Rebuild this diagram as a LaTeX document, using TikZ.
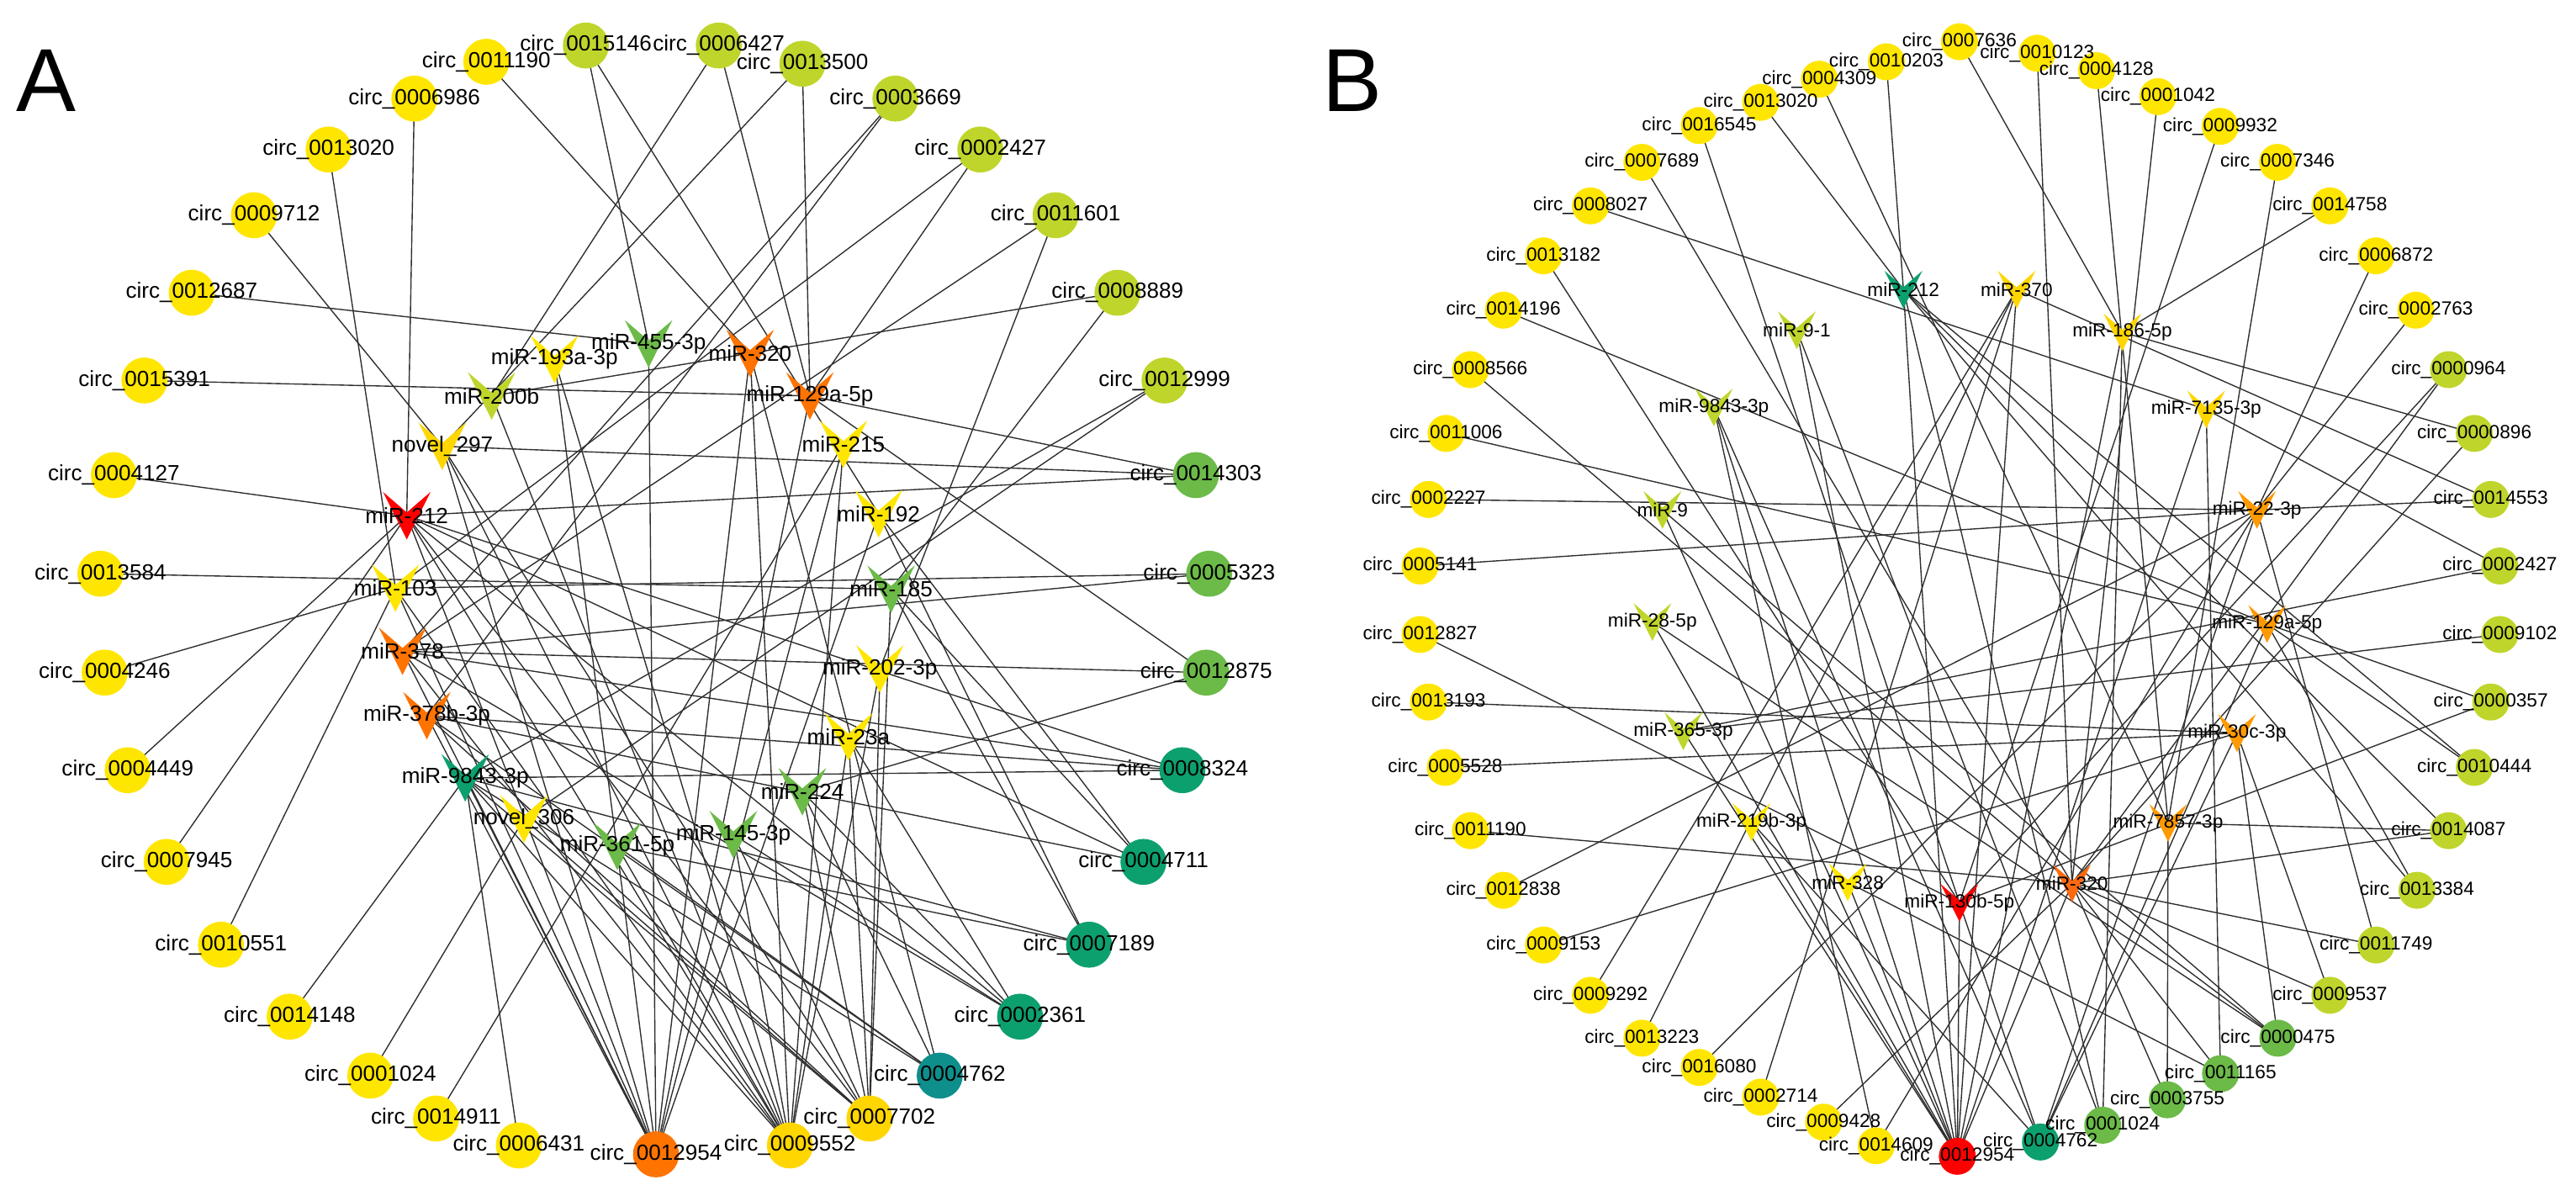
\documentclass[tikz,border=0pt]{standalone}
\usepackage{fontspec}
\setmainfont{Liberation Sans}
\pgfdeclarelayer{background}
\pgfdeclarelayer{foreground}
\pgfsetlayers{background,main,foreground}
\definecolor{cY}{HTML}{FFE600}
\definecolor{cGold}{HTML}{FFD600}
\definecolor{cYG}{HTML}{C0D52B}
\definecolor{cGR}{HTML}{6CBA48}
\definecolor{cTG}{HTML}{0DA06F}
\definecolor{cTeal}{HTML}{0E8F8C}
\definecolor{cOr}{HTML}{FF7300}
\definecolor{cOrB}{HTML}{FF9A00}
\definecolor{cOrR}{HTML}{FF6A10}
\definecolor{cRed}{HTML}{FF0000}
\tikzset{
  cA/.style={circle, draw=none, inner sep=0pt, minimum size=0.56cm},
  cB/.style={circle, draw=none, inner sep=0pt, minimum size=0.45cm},
  vA/.style={rectangle, draw=none, inner sep=0pt, minimum width=0.58cm, minimum height=0.58cm,
    path picture={\fill[#1] (path picture bounding box.north west) -- ([yshift=-0.25cm]path picture bounding box.north) -- (path picture bounding box.north east) -- (path picture bounding box.south) -- cycle;}},
  vB/.style={rectangle, draw=none, inner sep=0pt, minimum width=0.46cm, minimum height=0.46cm,
    path picture={\fill[#1] (path picture bounding box.north west) -- ([yshift=-0.2cm]path picture bounding box.north) -- (path picture bounding box.north east) -- (path picture bounding box.south) -- cycle;}},
  labA/.style={font=\fontsize{7.6}{9}\selectfont, inner sep=0pt, text=black},
  labB/.style={font=\fontsize{6.6}{8}\selectfont, inner sep=0pt, text=black},
  edge/.style={draw=black!82, line width=0.4pt},
  panel/.style={font=\fontsize{31}{31}\selectfont, inner sep=0pt, text=black}
}
\newcommand\circA[5]{\node[cA,fill=#4] (#1) at (#2,#3) {};
  \begin{pgfonlayer}{foreground}\node[labA] (#1-t) at (#1.center) {#5};\end{pgfonlayer}}
\newcommand\mirA[5]{\node[vA=#4] (#1) at (#2,#3) {};
  \begin{pgfonlayer}{foreground}\node[labA] (#1-t) at (#1.center) {#5};\end{pgfonlayer}}
\newcommand\circB[5]{\node[cB,fill=#4] (#1) at (#2,#3) {};
  \begin{pgfonlayer}{foreground}\node[labB] (#1-t) at (#1.center) {#5};\end{pgfonlayer}}
\newcommand\mirB[5]{\node[vB=#4] (#1) at (#2,#3) {};
  \begin{pgfonlayer}{foreground}\node[labB] (#1-t) at (#1.center) {#5};\end{pgfonlayer}}
\begin{document}
\begin{tikzpicture}[x=0.02cm,y=-0.02cm]
\useasboundingbox (0,0) rectangle (1568,731);
\begin{pgfonlayer}{background}
\fill[white] (0,0) rectangle (1568,731);
\end{pgfonlayer}
\node[panel] (pA) at (28,49) {A};
\node[panel] (pB) at (823,49) {B};
% ---------------- Panel A : circRNAs
\circA{a1}{356.6}{27.7}{cYG}{circ\_0015146}
\circA{a2}{437.5}{27.7}{cYG}{circ\_0006427}
\circA{a3}{488.4}{38.8}{cYG}{circ\_0013500}
\circA{a4}{545}{60}{cYG}{circ\_0003669}
\circA{a5}{596.7}{91}{cYG}{circ\_0002427}
\circA{a6}{642.5}{131}{cYG}{circ\_0011601}
\circA{a7}{680.2}{178.2}{cYG}{circ\_0008889}
\circA{a8}{708.8}{231.6}{cYG}{circ\_0012999}
\circA{a9}{727.9}{289.2}{cGR}{circ\_0014303}
\circA{a10}{736}{349.2}{cGR}{circ\_0005323}
\circA{a11}{734.2}{409.4}{cGR}{circ\_0012875}
\circA{a12}{719.7}{468.8}{cTG}{circ\_0008324}
\circA{a13}{696}{524.6}{cTG}{circ\_0004711}
\circA{a14}{662.9}{575}{cTG}{circ\_0007189}
\circA{a15}{620.9}{618.8}{cTG}{circ\_0002361}
\circA{a16}{572}{654.7}{cTeal}{circ\_0004762}
\circA{a17}{529.2}{680.8}{cGold}{circ\_0007702}
\circA{a18}{480.8}{697.2}{cGold}{circ\_0009552}
\circA{a19}{399.3}{702.6}{cOr}{circ\_0012954}
\circA{a20}{315.8}{697.2}{cY}{circ\_0006431}
\circA{a21}{265.4}{680.8}{cY}{circ\_0014911}
\circA{a22}{225.4}{654.7}{cY}{circ\_0001024}
\circA{a23}{176.3}{618.8}{cY}{circ\_0014148}
\circA{a24}{134.5}{575}{cY}{circ\_0010551}
\circA{a25}{101.4}{524.6}{cY}{circ\_0007945}
\circA{a26}{77.7}{468.8}{cY}{circ\_0004449}
\circA{a27}{63.7}{409.4}{cY}{circ\_0004246}
\circA{a28}{61.1}{349.2}{cY}{circ\_0013584}
\circA{a29}{69.3}{289.2}{cY}{circ\_0004127}
\circA{a30}{87.9}{231.6}{cY}{circ\_0015391}
\circA{a31}{116.7}{178.2}{cY}{circ\_0012687}
\circA{a32}{154.6}{131}{cY}{circ\_0009712}
\circA{a33}{200}{91}{cY}{circ\_0013020}
\circA{a34}{252.2}{60}{cY}{circ\_0006986}
\circA{a35}{296}{37.6}{cY}{circ\_0011190}
% ---------------- Panel A : miRNAs
\mirA{m1}{394.8}{209.3}{cGR}{miR-455-3p}
\mirA{m2}{456.6}{215.1}{cOr}{miR-320}
\mirA{m3}{337.5}{218.7}{cY}{miR-193a-3p}
\mirA{m4}{299.3}{241}{cYG}{miR-200b}
\mirA{m5}{493}{241}{cOr}{miR-129a-5p}
\mirA{m6}{269.2}{271.6}{cGold}{novel\_297}
\mirA{m7}{513.4}{270.4}{cY}{miR-215}
\mirA{m8}{247.6}{313.9}{cRed}{miR-212}
\mirA{m9}{534.8}{312.7}{cY}{miR-192}
\mirA{m10}{240.7}{358}{cY}{miR-103}
\mirA{m11}{542.4}{358.6}{cGR}{miR-185}
\mirA{m12}{245}{396.4}{cOr}{miR-378}
\mirA{m13}{535.6}{407.1}{cY}{miR-202-3p}
\mirA{m14}{259.8}{435.6}{cOr}{miR-378b-3p}
\mirA{m15}{516.5}{448.6}{cY}{miR-23a}
\mirA{m16}{283.2}{473.5}{cTG}{miR-9843-3p}
\mirA{m17}{488.4}{481.9}{cGR}{miR-224}
\mirA{m18}{318.9}{498.5}{cY}{novel\_306}
\mirA{m19}{446.4}{508}{cGR}{miR-145-3p}
\mirA{m20}{375.7}{515.1}{cGR}{miR-361-5p}
% ---------------- Panel B : circRNAs
\circB{b1}{1192.7}{25.4}{cY}{circ\_0007636}
\circB{b2}{1240}{32.4}{cY}{circ\_0010123}
\circB{b3}{1276.1}{43}{cY}{circ\_0004128}
\circB{b4}{1313.5}{58.8}{cY}{circ\_0001042}
\circB{b5}{1351.4}{76.9}{cY}{circ\_0009932}
\circB{b6}{1386.3}{98.8}{cY}{circ\_0007346}
\circB{b7}{1418.2}{125.3}{cY}{circ\_0014758}
\circB{b8}{1446.3}{155.7}{cY}{circ\_0006872}
\circB{b9}{1470.5}{188.8}{cY}{circ\_0002763}
\circB{b10}{1490.4}{225}{cYG}{circ\_0000964}
\circB{b11}{1506.1}{263.8}{cYG}{circ\_0000896}
\circB{b12}{1516.1}{304}{cYG}{circ\_0014553}
\circB{b13}{1521.6}{344.5}{cYG}{circ\_0002427}
\circB{b14}{1521.6}{386.2}{cYG}{circ\_0009102}
\circB{b15}{1516.1}{427.3}{cYG}{circ\_0000357}
\circB{b16}{1506.1}{467.1}{cYG}{circ\_0010444}
\circB{b17}{1490.4}{505.6}{cYG}{circ\_0014087}
\circB{b18}{1471.2}{541.9}{cYG}{circ\_0013384}
\circB{b19}{1446.3}{575.2}{cYG}{circ\_0011749}
\circB{b20}{1418.2}{605.8}{cYG}{circ\_0009537}
\circB{b21}{1386.5}{631.9}{cGR}{circ\_0000475}
\circB{b22}{1351.6}{653.5}{cGR}{circ\_0011165}
\circB{b23}{1319.2}{669.4}{cGR}{circ\_0003755}
\circB{b24}{1279.9}{684.9}{cGR}{circ\_0001024}
\circB{b25}{1242}{695.1}{cTG}{circ\_0004762}
\circB{b26}{1191.4}{703.8}{cRed}{circ\_0012954}
\circB{b27}{1142}{697.4}{cY}{circ\_0014609}
\circB{b28}{1110}{683}{cY}{circ\_0009428}
\circB{b29}{1071.7}{667.8}{cY}{circ\_0002714}
\circB{b30}{1034.3}{649.7}{cY}{circ\_0016080}
\circB{b31}{999.4}{631.9}{cY}{circ\_0013223}
\circB{b32}{968.1}{605.8}{cY}{circ\_0009292}
\circB{b33}{939.5}{575.2}{cY}{circ\_0009153}
\circB{b34}{915.1}{541.9}{cY}{circ\_0012838}
\circB{b35}{895}{505.6}{cY}{circ\_0011190}
\circB{b36}{879.7}{467.1}{cY}{circ\_0005528}
\circB{b37}{869.5}{427.3}{cY}{circ\_0013193}
\circB{b38}{864.4}{386.2}{cY}{circ\_0012827}
\circB{b39}{864.4}{344.5}{cY}{circ\_0005141}
\circB{b40}{869.5}{304}{cY}{circ\_0002227}
\circB{b41}{880.2}{263.8}{cY}{circ\_0011006}
\circB{b42}{895}{225}{cY}{circ\_0008566}
\circB{b43}{915.1}{188.8}{cY}{circ\_0014196}
\circB{b44}{939.5}{155.7}{cY}{circ\_0013182}
\circB{b45}{968.1}{125.3}{cY}{circ\_0008027}
\circB{b46}{999.4}{98.8}{cY}{circ\_0007689}
\circB{b47}{1034.3}{76.4}{cY}{circ\_0016545}
\circB{b48}{1071.7}{62.3}{cY}{circ\_0013020}
\circB{b49}{1107.4}{48.2}{cY}{circ\_0004309}
\circB{b50}{1148.2}{37.6}{cY}{circ\_0010203}
% ---------------- Panel B : miRNAs
\mirB{n1}{1158.6}{176.3}{cTG}{miR-212}
\mirB{n2}{1227.5}{176.3}{cGold}{miR-370}
\mirB{n3}{1093.7}{201}{cYG}{miR-9-1}
\mirB{n4}{1291.8}{202.2}{cGold}{miR-186-5p}
\mirB{n5}{1043.2}{248}{cYG}{miR-9843-3p}
\mirB{n6}{1342.9}{249.2}{cGold}{miR-7135-3p}
\mirB{n7}{1011.9}{310.4}{cYG}{miR-9}
\mirB{n8}{1373.8}{310.4}{cOrB}{miR-22-3p}
\mirB{n9}{1005.8}{378.6}{cYG}{miR-28-5p}
\mirB{n10}{1380}{379.8}{cOrB}{miR-129a-5p}
\mirB{n11}{1024.6}{445.1}{cYG}{miR-365-3p}
\mirB{n12}{1361.6}{446.2}{cOrB}{miR-30c-3p}
\mirB{n13}{1066.1}{500.4}{cY}{miR-219b-3p}
\mirB{n14}{1319.7}{500.9}{cOrB}{miR-7857-3p}
\mirB{n15}{1124.7}{537}{cY}{miR-328}
\mirB{n16}{1261.2}{537.7}{cOrR}{miR-320}
\mirB{n17}{1192.7}{549.5}{cRed}{miR-130b-5p}
% ---------------- edges
\begin{pgfonlayer}{background}
\foreach \s/\t in {a35/m2,a1/m1,a1/m9,a34/m8,a33/m10,a32/m6,a31/m1,a30/m5,a29/m8,a28/m11,
  a27/m10,a26/m8,a25/m8,a24/m10,a23/m16,a22/m18,a21/m7,a20/m16,
  a2/m5,a2/m4,a3/m5,a3/m6,a4/m12,a4/m14,a5/m10,a5/m5,a6/m12,a6/m13,a7/m4,a7/m11,
  a8/m16,a8/m18,a9/m5,a9/m6,a9/m8,a10/m10,a10/m12,a11/m5,a11/m12,a11/m17,
  a12/m16,a12/m14,a12/m12,a12/m8,a13/m14,a13/m8,a13/m11,a13/m9,
  a14/m20,a14/m11,a14/m9,a14/m16,a15/m12,a15/m8,a15/m17,a15/m19,a15/m15,
  a16/m16,a16/m14,a16/m17,a16/m20,a16/m2,
  a17/m13,a17/m11,a17/m15,a17/m17,a17/m8,a17/m14,a17/m18,a17/m16,a17/m19,a17/m6,
  a18/m8,a18/m12,a18/m6,a18/m4,a18/m3,a18/m2,a18/m7,a18/m13,a18/m15,a18/m19,a18/m16,a18/m20,a18/m10,
  a19/m8,a19/m12,a19/m14,a19/m16,a19/m1,a19/m2,a19/m5,a19/m7,a19/m9,a19/m6,a19/m10,a19/m3}
  {\draw[edge] (\s.center) -- (\t.center);}
\foreach \s/\t in {n1/b50,n1/b48,n1/b26,n1/b24,n1/b18,n1/b17,n1/b16,
  n2/b12,n2/b32,n2/b31,n2/b29,n2/b26,
  n4/b1,n4/b7,n4/b11,n4/b24,n4/b26,
  n6/b45,n6/b13,n6/b22,n6/b26,
  n8/b40,n8/b39,n8/b12,n8/b8,n8/b9,n8/b34,n8/b30,n8/b27,n8/b25,n8/b19,
  n10/b43,n10/b41,n10/b18,n10/b16,n10/b15,n10/b25,
  n12/b37,n12/b36,n12/b33,n12/b21,n12/b20,n12/b25,
  n14/b49,n14/b3,n14/b6,n14/b23,n14/b17,
  n16/b2,n16/b4,n16/b46,n16/b42,n16/b35,n16/b28,n16/b10,n16/b11,n16/b23,n16/b22,n16/b21,n16/b20,n16/b19,n16/b17,n16/b26,
  n17/b47,n17/b44,n17/b38,n17/b5,n17/b10,n17/b15,n17/b26,n17/b25,
  n3/b26,n3/b24,n5/b27,n5/b26,n5/b25,n7/b26,n7/b21,n9/b26,n9/b21,
  n11/b13,n11/b14,n11/b26,n13/b26,n13/b25,n15/b26,n15/b22}
  {\draw[edge] (\s.center) -- (\t.center);}
\end{pgfonlayer}
\end{tikzpicture}
\end{document}
